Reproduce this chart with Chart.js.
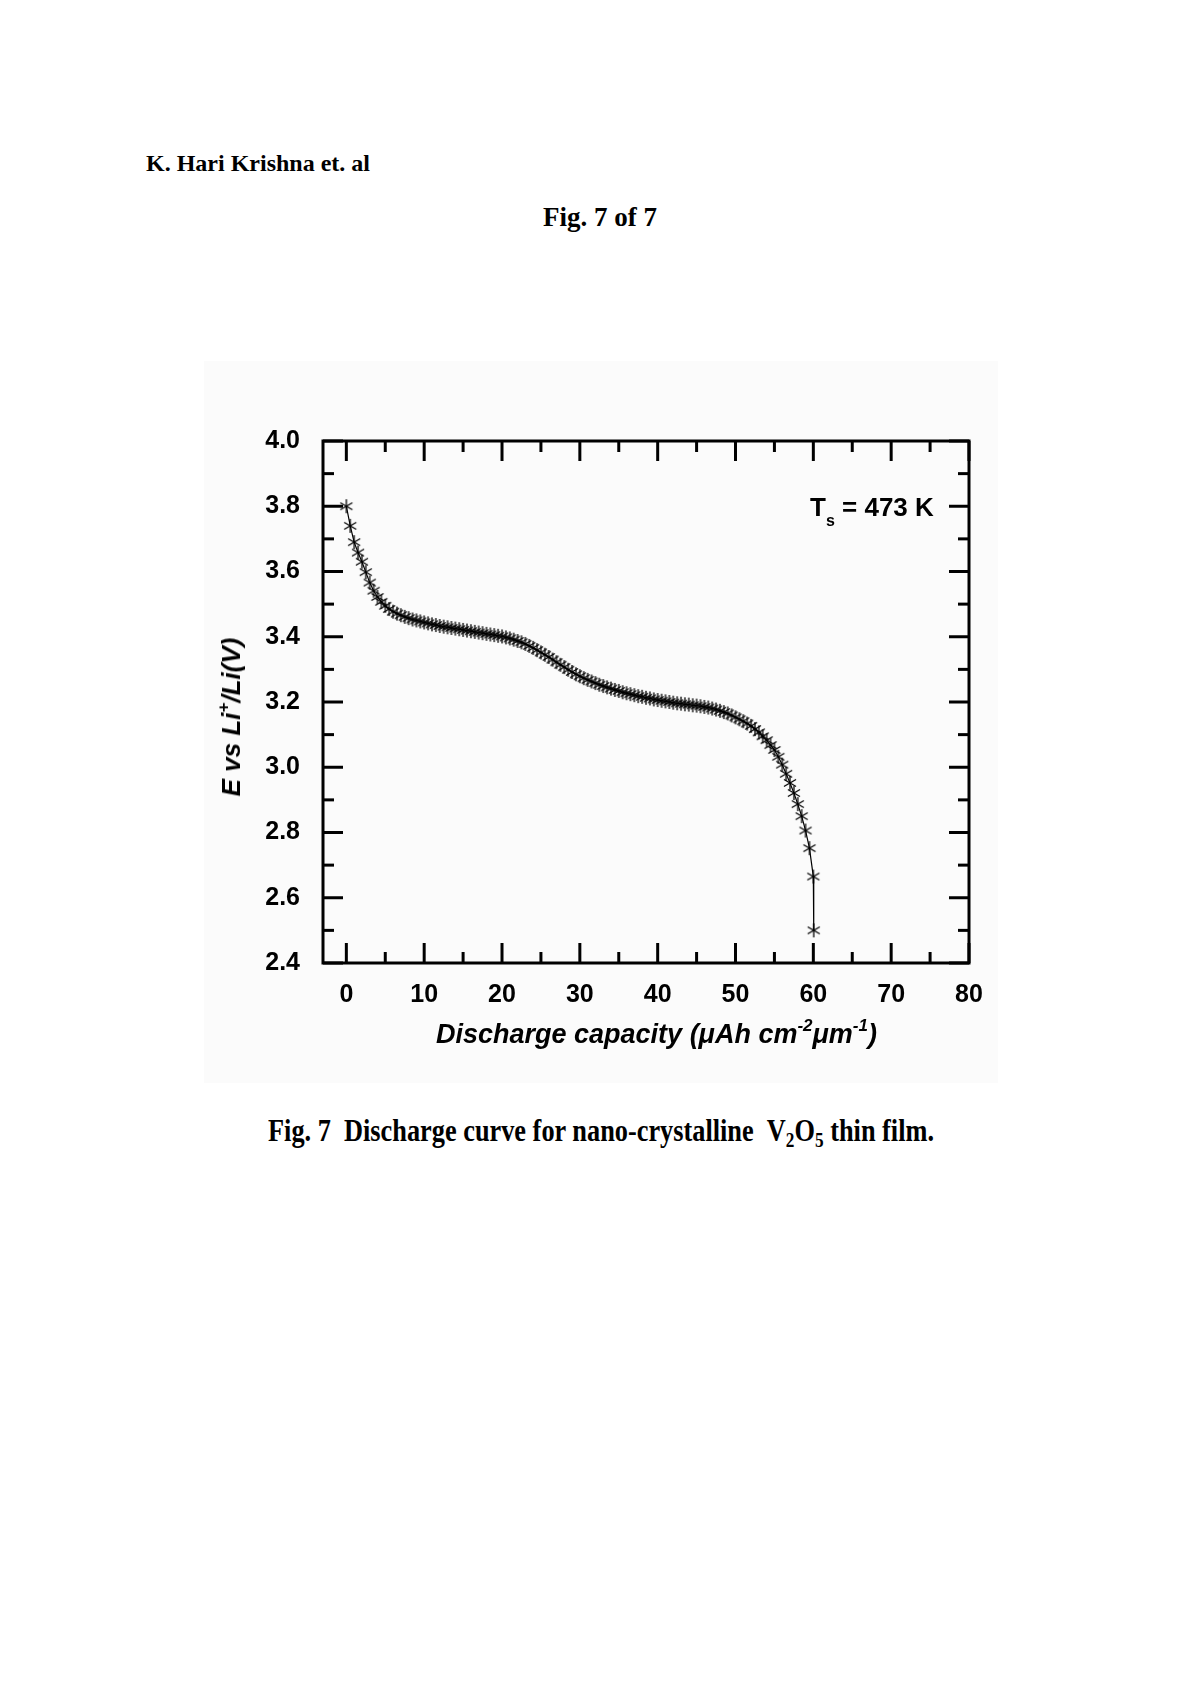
<!DOCTYPE html>
<html>
<head>
<meta charset="utf-8">
<script src="https://cdn.jsdelivr.net/npm/chart.js@4.4.1/dist/chart.umd.min.js"></script>
<style>
  html, body { margin: 0; padding: 0; background: #fff; }
  #page { position: relative; width: 1200px; height: 1698px; overflow: hidden; }
  .serif { font-family: 'Liberation Serif', 'Times New Roman', serif; font-weight: bold; color: #000; line-height: 1; white-space: nowrap; position: absolute; }
  .sans { font-family: 'Liberation Sans', Arial, sans-serif; font-weight: bold; color: #000; line-height: 1; white-space: nowrap; position: absolute; }
  #figbox { position: absolute; left: 204px; top: 361px; width: 794px; height: 722px; background: #fbfbfb; }
  #chartwrap { position: absolute; left: 200px; top: 380px; width: 800px; height: 700px; }
</style>
</head>
<body>
<div id="page">
  <div class="serif" style="left:146px; top:151px; font-size:24px;">K. Hari Krishna et. al</div>
  <div class="serif" style="left:0; width:1200px; text-align:center; top:204px; font-size:27px;">Fig. 7 of 7</div>

  <div id="figbox"></div>
  <div id="chartwrap"><canvas id="grafico" width="800" height="700"></canvas></div>

  <div class="sans" style="left:810px; top:494px; font-size:26px;">T<span style="font-size:16px; position:relative; top:10px;">s</span> = 473 K</div>

  <div class="sans" id="ytitle" style="left:231px; top:717px; font-size:26px; font-style:italic; transform:translate(-50%,-50%) rotate(-90deg);">E vs Li<span style="font-size:17px; position:relative; top:-11px;">+</span>/Li(V)</div>

  <div class="sans" style="left:436px; top:1021px; font-size:27px; font-style:italic;">Discharge capacity (&mu;Ah cm<span style="font-size:17px; position:relative; top:-12px;">-2</span>&mu;m<span style="font-size:17px; position:relative; top:-12px;">-1</span>)</div>

  <div class="serif" id="caption" style="left:268px; top:1114px; font-size:32px; transform-origin:0 0;">Fig. 7&nbsp; Discharge curve for nano-crystalline &nbsp;V<span style="font-size:21px; position:relative; top:6px;">2</span>O<span style="font-size:21px; position:relative; top:6px;">5</span> thin film.</div>
</div>

<script>
// capacidad de descarga (uAh cm-2 um-1)
var capacidad = [
  0.0, 0.5, 1.0, 1.5, 2.0, 2.5, 3.0, 3.5, 4.0, 4.5,
  5.0, 5.5, 6.0, 6.5, 7.0, 7.5, 8.0, 8.5, 9.0, 9.5,
  10.0, 10.5, 11.0, 11.5, 12.0, 12.5, 13.0, 13.5, 14.0, 14.5,
  15.0, 15.5, 16.0, 16.5, 17.0, 17.5, 18.0, 18.5, 19.0, 19.5,
  20.0, 20.5, 21.0, 21.5, 22.0, 22.5, 23.0, 23.5, 24.0, 24.5,
  25.0, 25.5, 26.0, 26.5, 27.0, 27.5, 28.0, 28.5, 29.0, 29.5,
  30.0, 30.5, 31.0, 31.5, 32.0, 32.5, 33.0, 33.5, 34.0, 34.5,
  35.0, 35.5, 36.0, 36.5, 37.0, 37.5, 38.0, 38.5, 39.0, 39.5,
  40.0, 40.5, 41.0, 41.5, 42.0, 42.5, 43.0, 43.5, 44.0, 44.5,
  45.0, 45.5, 46.0, 46.5, 47.0, 47.5, 48.0, 48.5, 49.0, 49.5,
  50.0, 50.5, 51.0, 51.5, 52.0, 52.5, 53.0, 53.5, 54.0, 54.5,
  55.0, 55.5, 56.0, 56.5, 57.0, 57.5, 58.0, 58.5, 59.0, 59.5,
  60.0, 60.05
];

// potencial E vs Li+/Li (V)
var potencial = [
  3.800, 3.740, 3.690, 3.658, 3.630, 3.598, 3.566, 3.541, 3.522, 3.507,
  3.495, 3.485, 3.477, 3.471, 3.466, 3.461, 3.457, 3.453, 3.450, 3.447,
  3.444, 3.441, 3.438, 3.436, 3.433, 3.431, 3.429, 3.427, 3.425, 3.423,
  3.421, 3.419, 3.417, 3.415, 3.413, 3.411, 3.409, 3.407, 3.405, 3.403,
  3.401, 3.398, 3.395, 3.391, 3.387, 3.383, 3.378, 3.372, 3.366, 3.359,
  3.352, 3.345, 3.338, 3.330, 3.322, 3.314, 3.307, 3.299, 3.292, 3.285,
  3.279, 3.273, 3.268, 3.263, 3.258, 3.253, 3.249, 3.245, 3.241, 3.237,
  3.234, 3.230, 3.227, 3.224, 3.221, 3.218, 3.216, 3.213, 3.211, 3.208,
  3.206, 3.204, 3.202, 3.200, 3.198, 3.196, 3.195, 3.193, 3.192, 3.190,
  3.189, 3.187, 3.185, 3.183, 3.180, 3.177, 3.173, 3.169, 3.165, 3.159,
  3.153, 3.147, 3.141, 3.134, 3.127, 3.117, 3.107, 3.095, 3.083, 3.068,
  3.053, 3.032, 3.008, 2.980, 2.952, 2.921, 2.887, 2.850, 2.806, 2.752,
  2.665, 2.500
];

var ticks_x = [0, 10, 20, 30, 40, 50, 60, 70, 80];
var ticks_x_menor = [5, 15, 25, 35, 45, 55, 65, 75];
var ticks_y = [2.4, 2.6, 2.8, 3.0, 3.2, 3.4, 3.6, 3.8, 4.0];
var ticks_y_menor = [2.5, 2.7, 2.9, 3.1, 3.3, 3.5, 3.7, 3.9];

// marcador asterisco de 6 brazos
function crear_asterisco(){
    var c = document.createElement('canvas');
    c.width = 16; c.height = 16;
    var ctx = c.getContext('2d');
    ctx.strokeStyle = '#000';
    ctx.lineWidth = 1.3;
    var r = 7;
    for (var i = 0; i < 3; i++) {
        var a = Math.PI / 2 + i * Math.PI / 3;
        ctx.beginPath();
        ctx.moveTo(8 - r * Math.cos(a), 8 - r * Math.sin(a));
        ctx.lineTo(8 + r * Math.cos(a), 8 + r * Math.sin(a));
        ctx.stroke();
    }
    return c;
}

// marco y ticks hacia dentro en los cuatro lados
var marco_plugin = {
    id: 'marco',
    afterDraw: function(chart){
        var ctx = chart.ctx;
        var a = chart.chartArea;
        var sx = chart.scales.x, sy = chart.scales.y;
        ctx.save();
        ctx.strokeStyle = '#000';
        ctx.lineWidth = 3;
        ctx.lineCap = 'butt';
        function tick(x1, y1, x2, y2){
            ctx.beginPath(); ctx.moveTo(x1, y1); ctx.lineTo(x2, y2); ctx.stroke();
        }
        var largo = 20, corto = 11;
        ticks_x.forEach(function(v){
            var px = sx.getPixelForValue(v);
            tick(px, a.bottom, px, a.bottom - largo);
            tick(px, a.top, px, a.top + largo);
        });
        ticks_x_menor.forEach(function(v){
            var px = sx.getPixelForValue(v);
            tick(px, a.bottom, px, a.bottom - corto);
            tick(px, a.top, px, a.top + corto);
        });
        ticks_y.forEach(function(v){
            var py = sy.getPixelForValue(v);
            tick(a.left, py, a.left + largo, py);
            tick(a.right, py, a.right - largo, py);
        });
        ticks_y_menor.forEach(function(v){
            var py = sy.getPixelForValue(v);
            tick(a.left, py, a.left + corto, py);
            tick(a.right, py, a.right - corto, py);
        });
        ctx.lineJoin = 'miter';
        ctx.strokeRect(a.left, a.top, a.right - a.left, a.bottom - a.top);
        ctx.restore();
    }
};

function dibujar(){
    var puntos = [];
    for (var i = 0; i < capacidad.length; i++) {
        puntos.push({x: capacidad[i], y: potencial[i]});
    }
    var fuente = {family: "'Liberation Sans', Arial, sans-serif", size: 25, weight: 'bold'};

    new Chart(document.getElementById('grafico'), {
        type: 'scatter',
        data: {
            datasets: [{
                data: puntos,
                showLine: true,
                borderColor: '#000',
                borderWidth: 1.2,
                pointStyle: crear_asterisco(),
                pointRadius: 7,
                pointHoverRadius: 7
            }]
        },
        options: {
            responsive: false,
            animation: false,
            layout: {padding: {top: 61, right: 31, left: 0, bottom: 0}},
            plugins: {legend: {display: false}, tooltip: {enabled: false}},
            scales: {
                x: {
                    type: 'linear',
                    min: -3, max: 80,
                    grid: {display: false, drawTicks: false},
                    border: {display: false},
                    afterBuildTicks: function(s){ s.ticks = ticks_x.map(function(v){ return {value: v}; }); },
                    afterFit: function(s){ s.height = 117; },
                    ticks: {color: '#000', font: fuente, padding: 17, maxRotation: 0,
                            callback: function(v){ return v; }}
                },
                y: {
                    type: 'linear',
                    min: 2.4, max: 4.0,
                    grid: {display: false, drawTicks: false},
                    border: {display: false},
                    afterBuildTicks: function(s){ s.ticks = ticks_y.map(function(v){ return {value: v}; }); },
                    afterFit: function(s){ s.width = 123; },
                    ticks: {color: '#000', font: fuente, padding: 23,
                            callback: function(v){ return Number(v).toFixed(1); }}
                }
            }
        },
        plugins: [marco_plugin]
    });

    // pie de figura estrecho como en el original
    var cap = document.getElementById('caption');
    var ancho = cap.getBoundingClientRect().width;
    cap.style.transform = 'scaleX(' + (666 / ancho) + ')';
}

dibujar();
</script>
</body>
</html>
